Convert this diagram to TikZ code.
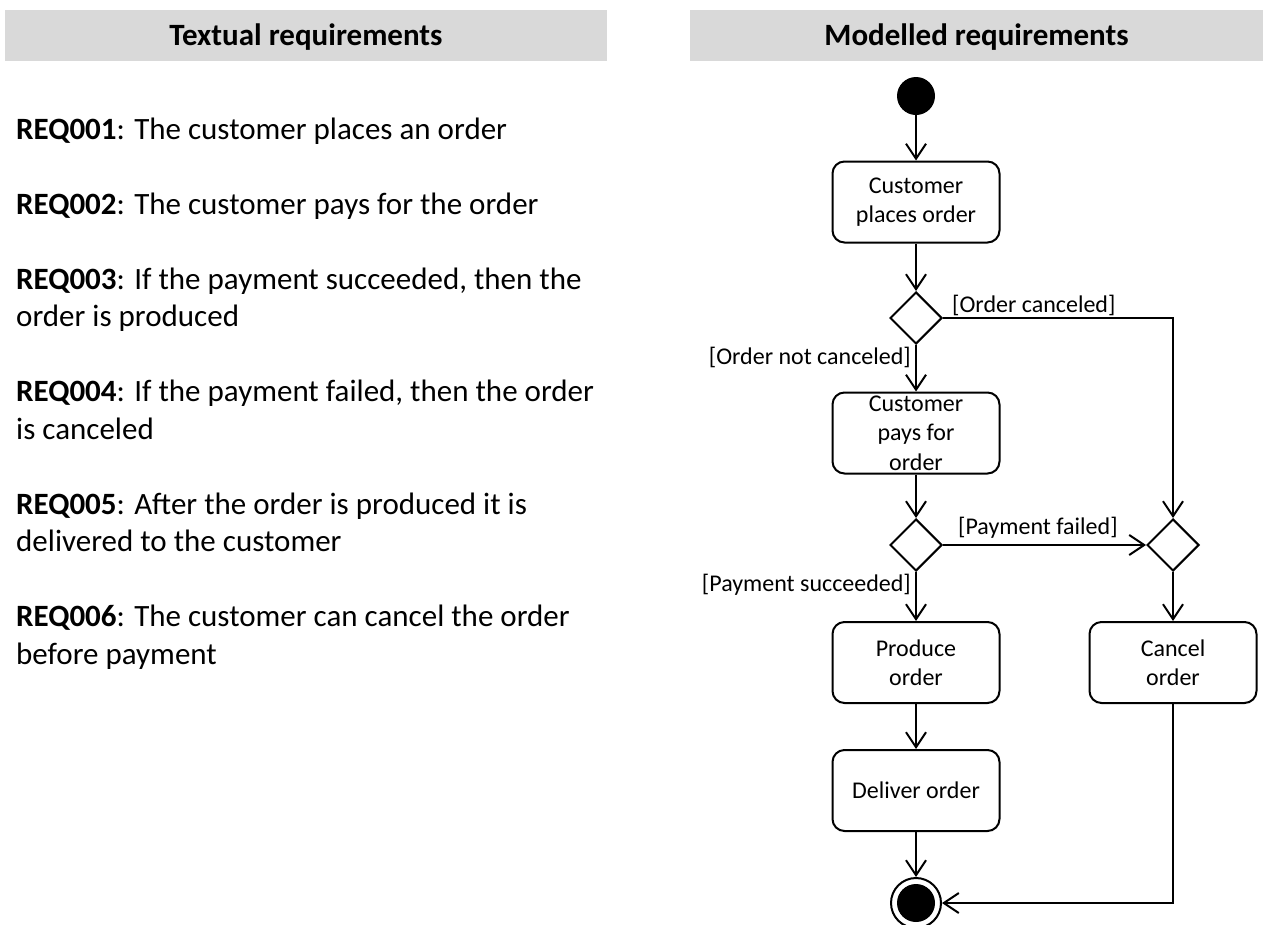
\documentclass[tikz,border=0pt]{standalone}
\usepackage{fontspec}
\setmainfont{Carlito}
\usetikzlibrary{arrows.meta,shapes.geometric}
\definecolor{hdrgray}{HTML}{D9D9D9}
\begin{document}
\begin{tikzpicture}[x=1pt,y=-1pt,
  hdr/.style={fill=hdrgray, minimum height=51pt, inner sep=0pt, text height=21pt, text depth=1pt, font=\fontsize{31}{37}\selectfont\bfseries},
  req/.style={anchor=base west, inner sep=0pt, font=\fontsize{31}{37.5}\selectfont},
  act/.style={draw, line width=2pt, rounded corners=12pt, minimum width=167pt, minimum height=81pt, inner sep=0pt, align=center, font=\fontsize{24}{29.3}\selectfont},
  dec/.style={draw, diamond, line width=2pt, minimum width=52pt, minimum height=52pt, inner sep=0pt},
  lbl/.style={inner sep=0pt, font=\fontsize{24}{29}\selectfont},
  conn/.style={line width=2pt, -{Straight Barb[length=15pt,width=20pt]}}
]
\useasboundingbox (0,0) rectangle (1263,924);
\fill[white] (0,0) rectangle (1263,924);

% headers
\node[hdr, minimum width=602pt] (h1) at (306,35.5) {Textual requirements};
\node[hdr, minimum width=573pt] (h2) at (976.5,35.5) {Modelled requirements};

% textual requirements
\node[req] (r1) at (16,139) {\textbf{REQ001}: The customer places an order};
\node[req] (r2) at (16,214) {\textbf{REQ002}: The customer pays for the order};
\node[req] (r3) at (16,289) {\textbf{REQ003}: If the payment succeeded, then the};
\node[req] (r3b) at (16,326.5) {order is produced};
\node[req] (r4) at (16,401.5) {\textbf{REQ004}: If the payment failed, then the order};
\node[req] (r4b) at (16,439) {is canceled};
\node[req] (r5) at (16,514) {\textbf{REQ005}: After the order is produced it is};
\node[req] (r5b) at (16,551.5) {delivered to the customer};
\node[req] (r6) at (16,626.5) {\textbf{REQ006}: The customer can cancel the order};
\node[req] (r6b) at (16,664) {before payment};

% activity diagram
\node[circle, fill, minimum size=38pt, inner sep=0pt] (init) at (916,96) {};
\node[act] (b1) at (916,202) {Customer\\places order};
\node[dec] (d1) at (916,318) {};
\node[act] (b2) at (916,433) {Customer\\pays for\\order};
\node[dec] (d2) at (916,545) {};
\node[dec] (d3) at (1173,545) {};
\node[act] (b3) at (916,662.5) {Produce\\order};
\node[act] (b4) at (1173,662.5) {Cancel\\order};
\node[act] (b5) at (916,790.5) {Deliver order};
\node[circle, draw, line width=2pt, minimum size=50pt, inner sep=0pt] (fin) at (916,903) {};
\node[circle, fill, minimum size=38pt, inner sep=0pt] (finin) at (fin.center) {};

% guards
\node[lbl, anchor=base west] (g1) at (952,312) {[Order canceled]};
\node[lbl, anchor=base east] (g2) at (911,364) {[Order not canceled]};
\node[lbl, anchor=base west] (g3) at (958,534) {[Payment failed]};
\node[lbl, anchor=base east] (g4) at (911,591) {[Payment succeeded]};

% connectors
\draw[conn] (init) -- (b1);
\draw[conn] (b1) -- (d1);
\draw[conn] (d1) -- (b2);
\draw[conn] (d1.east) -| (d3.north);
\draw[conn] (b2) -- (d2);
\draw[conn] (d2) -- (b3);
\draw[conn] (d2) -- (d3);
\draw[conn] (d3) -- (b4);
\draw[conn] (b3) -- (b5);
\draw[conn] (b5) -- (fin);
\draw[conn] (b4.south) |- (fin.east);
\end{tikzpicture}
\end{document}
